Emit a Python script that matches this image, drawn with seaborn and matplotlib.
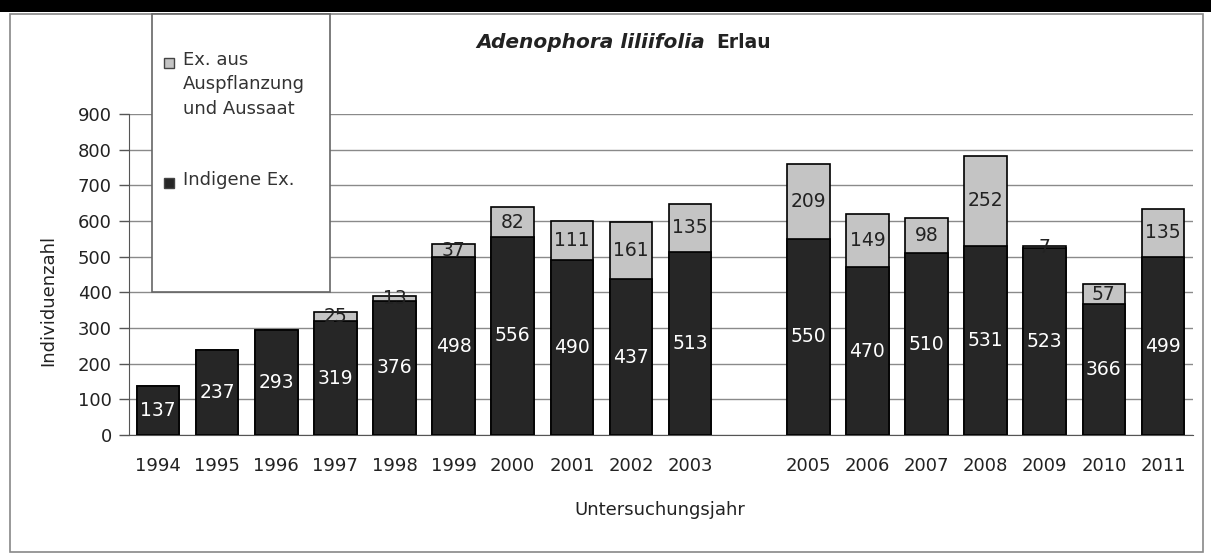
import numpy as np
import pandas as pd
import matplotlib
matplotlib.use("Agg")
import matplotlib.pyplot as plt
from matplotlib.patches import Rectangle
import seaborn as sns

years = ["1994", "1995", "1996", "1997", "1998", "1999", "2000", "2001", "2002",
         "2003", "2004", "2005", "2006", "2007", "2008", "2009", "2010", "2011"]
year_labels = ["1994", "1995", "1996", "1997", "1998", "1999", "2000", "2001", "2002",
               "2003", "", "2005", "2006", "2007", "2008", "2009", "2010", "2011"]
indigene = [137, 237, 293, 319, 376, 498, 556, 490, 437, 513, np.nan,
            550, 470, 510, 531, 523, 366, 499]
ausgepflanzt = [0, 0, 0, 25, 13, 37, 82, 111, 161, 135, np.nan,
                209, 149, 98, 252, 7, 57, 135]

df = pd.DataFrame({"Jahr": years, "Indigene": indigene, "Aus": ausgepflanzt})
df["Gesamt"] = df["Indigene"] + df["Aus"]

sns.set_style("white")
plt.rcParams["font.family"] = ["DejaVu Sans"]

dark = "#262626"
light = "#c4c4c4"
txt = "#222222"
fs = 13

fig = plt.figure(figsize=(12.11, 5.54), dpi=100)
W, H = 1211, 554
ax = fig.add_axes([128.5 / W, 1 - 435 / H, (1192.5 - 128.5) / W, (435 - 114) / H])

sns.barplot(data=df, x="Jahr", y="Gesamt", color=light, edgecolor="black",
            linewidth=1.2, width=0.72, saturation=1, ax=ax, zorder=2)
sns.barplot(data=df, x="Jahr", y="Indigene", color=dark, edgecolor="black",
            linewidth=1.2, width=0.72, saturation=1, ax=ax, zorder=3)

# labels: indigenous in the middle of the dark part, planted in the middle of the grey part
for i, (ind, aus) in enumerate(zip(indigene, ausgepflanzt)):
    if np.isnan(ind):
        continue
    ax.text(i, ind / 2, f"{int(ind)}", ha="center", va="center", color="white",
            fontsize=13.5, zorder=5)
    if aus > 0:
        ax.text(i, ind + aus / 2, f"{int(aus)}", ha="center", va="center",
                color=txt, fontsize=13.5, zorder=5)

ax.set_ylim(0, 900)
ax.set_xlim(-0.5, 17.5)
ax.set_yticks(range(0, 901, 100))
ax.yaxis.grid(True, color="#8a8a8a", linewidth=1)
ax.set_axisbelow(True)
ax.set_xticks(range(len(years)))
ax.set_xticklabels(year_labels, fontsize=fs, color=txt)
ax.tick_params(axis="y", labelsize=fs, labelcolor=txt, left=True,
               length=7, width=1, color="#555555", pad=5)
ax.tick_params(axis="x", bottom=False, pad=12)
for s in ["top", "right"]:
    ax.spines[s].set_visible(False)
ax.spines["left"].set_color("#555555")
ax.spines["bottom"].set_color("#555555")
ax.set_xlabel("")
ax.set_ylabel("")

fig.text(48 / W, 1 - 300 / H, "Individuenzahl", rotation=90, ha="center",
         va="center", fontsize=fs, color=txt)
fig.text(660 / W, 1 - 510 / H, "Untersuchungsjahr", ha="center", va="center",
         fontsize=fs, color=txt)

fig.text(705 / W, 1 - 42 / H, "Adenophora liliifolia", ha="right", va="center",
         fontsize=14.5, fontweight="bold", fontstyle="italic", color=txt)
fig.text(716 / W, 1 - 42 / H, "Erlau", ha="left", va="center",
         fontsize=13.5, fontweight="bold", color=txt)

# outer frame and black band on top
fig.patches.append(Rectangle((0, 1 - 12 / H), 1, 12 / H, transform=fig.transFigure,
                             facecolor="black", edgecolor="none", zorder=0))
fig.patches.append(Rectangle((10 / W, 1 - 552 / H), 1193 / W, 538 / H,
                             transform=fig.transFigure, facecolor="none",
                             edgecolor="#888888", linewidth=1.2, zorder=0))

# legend box, drawn by hand to keep the marker on the first text line
fig.patches.append(Rectangle((152 / W, 1 - 292 / H), 178 / W, 278 / H,
                             transform=fig.transFigure, facecolor="white",
                             edgecolor="#666666", linewidth=1.2, zorder=4))
legend_items = [("Ex. aus\nAuspflanzung\nund Aussaat", light, 63),
                ("Indigene Ex.", dark, 183)]
for label, col, ypx in legend_items:
    fig.patches.append(Rectangle((164 / W, 1 - (ypx + 5) / H), 10 / W, 10 / H,
                                 transform=fig.transFigure, facecolor=col,
                                 edgecolor="#444444", linewidth=1, zorder=5))
    fig.text(183 / W, 1 - (ypx - 12) / H, label, ha="left", va="top",
             fontsize=fs, color="#333333", linespacing=1.45, zorder=6)

fig.savefig("out.png", dpi=100)
